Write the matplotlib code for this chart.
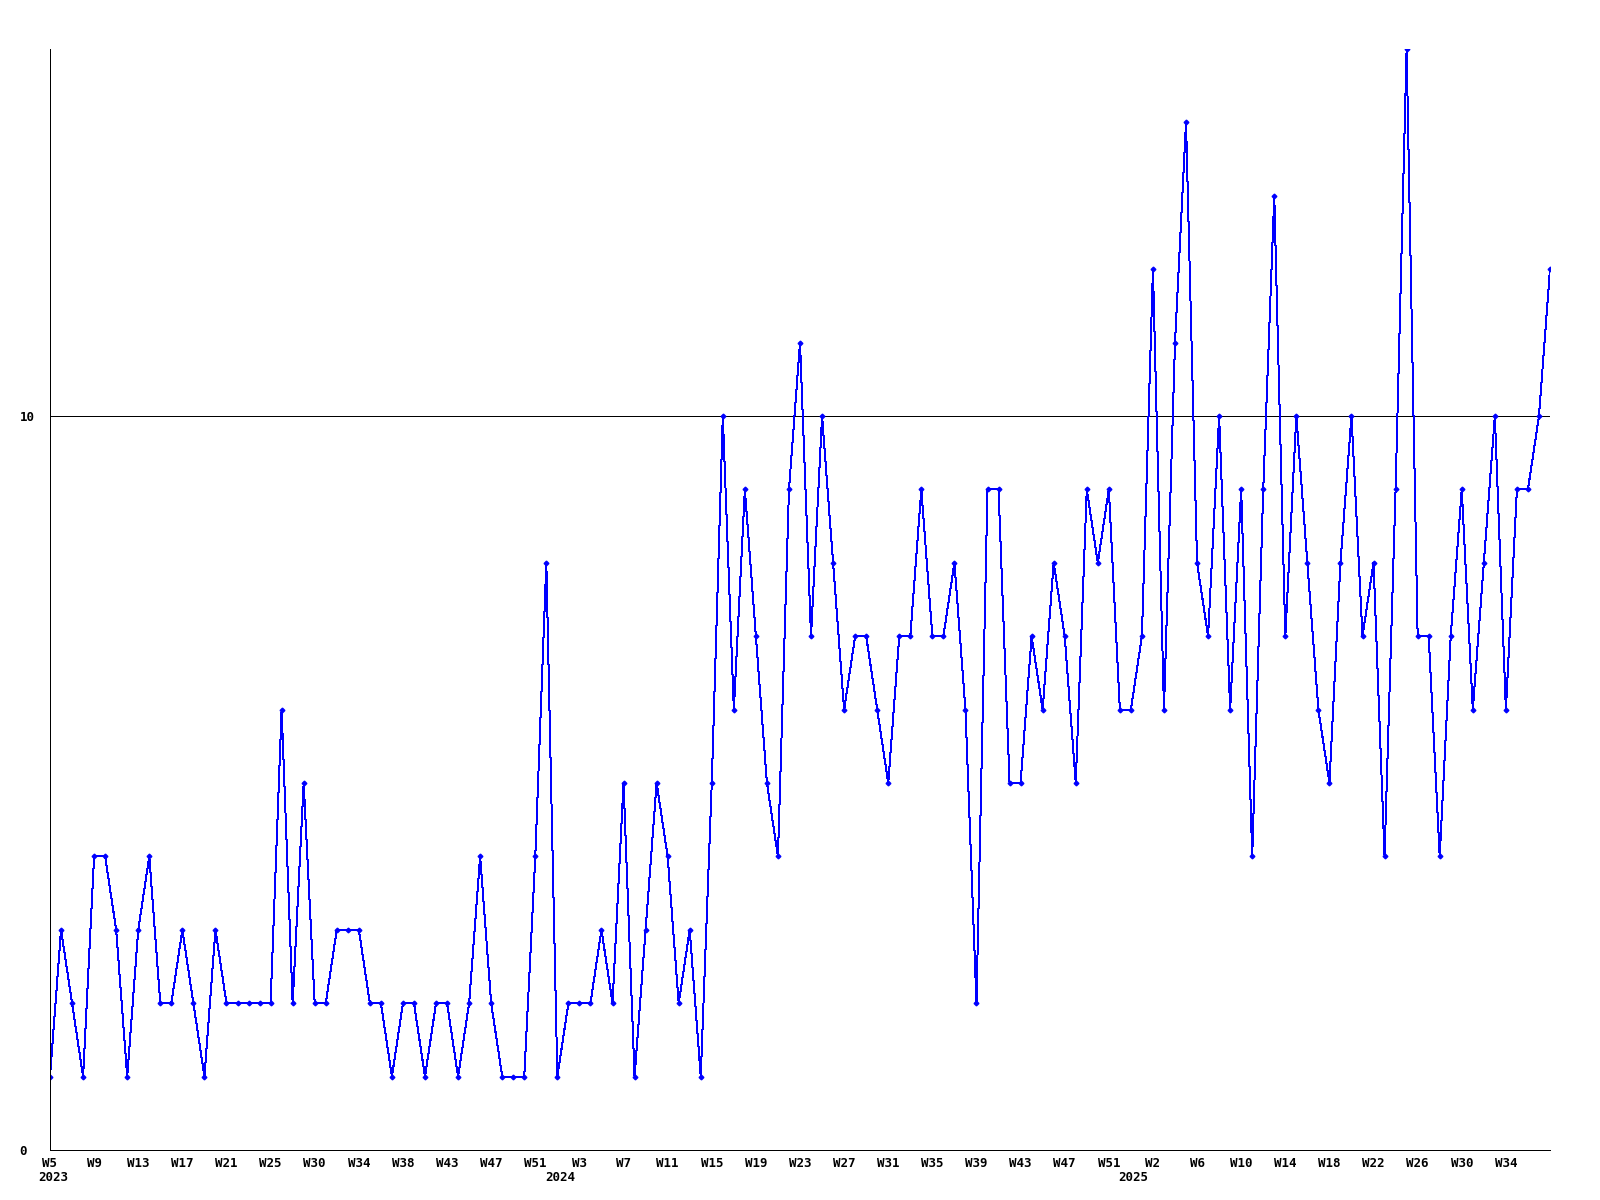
import matplotlib
matplotlib.use("Agg")
import matplotlib.pyplot as plt
import matplotlib.transforms as mtransforms

# weekly counts, starting at 2023 W5
values = [
    1, 3, 2, 1, 4, 4, 3, 1, 3, 4,
    2, 2, 3, 2, 1, 3, 2, 2, 2, 2,
    2, 6, 2, 5, 2, 2, 3, 3, 3, 2,
    2, 1, 2, 2, 1, 2, 2, 1, 2, 4,
    2, 1, 1, 1, 4, 8, 1, 2, 2, 2,
    3, 2, 5, 1, 3, 5, 4, 2, 3, 1,
    5, 10, 6, 9, 7, 5, 4, 9, 11, 7,
    10, 8, 6, 7, 7, 6, 5, 7, 7, 9,
    7, 7, 8, 6, 2, 9, 9, 5, 5, 7,
    6, 8, 7, 5, 9, 8, 9, 6, 6, 7,
    12, 6, 11, 14, 8, 7, 10, 6, 9, 4,
    9, 13, 7, 10, 8, 6, 5, 8, 10, 7,
    8, 4, 9, 15, 7, 7, 4, 7, 9, 6,
    8, 10, 6, 9, 9, 10, 12,
]

week_labels = [
    "W5", "W9", "W13", "W17", "W21", "W25", "W30", "W34", "W38", "W43", "W47", "W51",
    "W3", "W7", "W11", "W15", "W19", "W23", "W27", "W31", "W35", "W39", "W43", "W47", "W51",
    "W2", "W6", "W10", "W14", "W18", "W22", "W26", "W30", "W34",
]
year_labels = ["2023", "2024", "2025"]
year_pos = [0.3, 46.3, 98.2]

font = dict(family="DejaVu Sans Mono", size=9, weight="bold")

fig = plt.figure(figsize=(16, 12), dpi=100)
ax = fig.add_axes([50 / 1600, 50 / 1200, 1500 / 1600, 1101 / 1200])

x = list(range(len(values)))
ax.axhline(10, color="black", linewidth=0.72, zorder=1, antialiased=False)
ax.plot(x, values, color="#0000ff", linewidth=0.72, marker="D", markersize=2.4,
        antialiased=False, zorder=2)

ax.set_xlim(0, len(values) - 1)
ax.set_ylim(0, 15)

ax.spines["top"].set_visible(False)
ax.spines["right"].set_visible(False)
ax.spines["left"].set_linewidth(0.72)
ax.spines["bottom"].set_linewidth(0.72)

ax.set_yticks([0, 10])
ax.set_yticklabels(["0", "10"], fontdict=font)
for lbl in ax.get_yticklabels():
    lbl.set_horizontalalignment("left")
ax.tick_params(axis="y", length=0, pad=22)

ax.set_xticks(x[::4][:len(week_labels)])
ax.set_xticklabels(week_labels, fontdict=font)
ax.tick_params(axis="x", length=0, pad=5)

trans = mtransforms.blended_transform_factory(ax.transData, ax.transAxes)
for pos, yr in zip(year_pos, year_labels):
    ax.text(pos, -0.025, yr, transform=trans, ha="center", va="center", **font)

fig.savefig("out.png", dpi=100)
